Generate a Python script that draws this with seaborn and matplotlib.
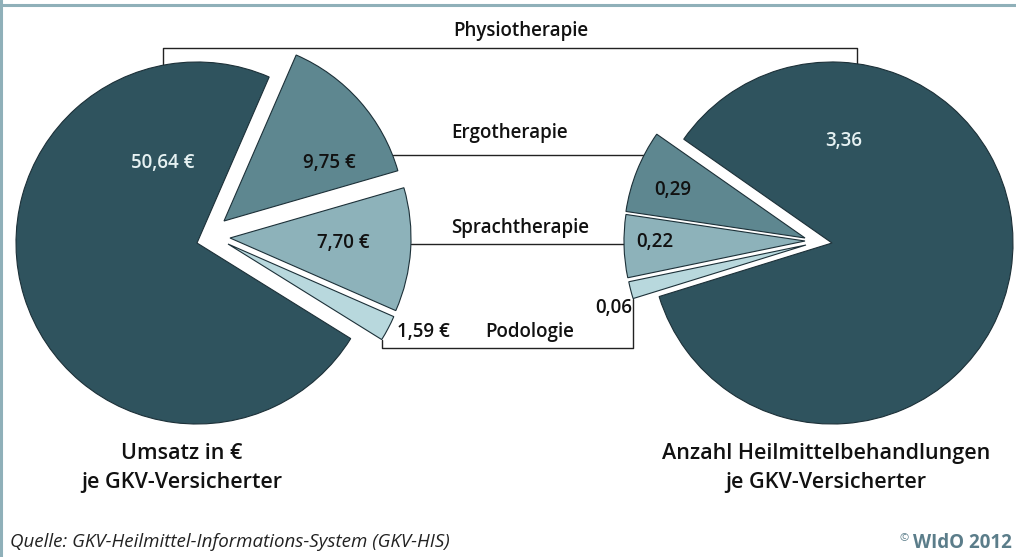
import numpy as np
import seaborn as sns
import matplotlib.pyplot as plt

sns.set_theme(style="white")
plt.rcParams['font.family'] = ['Open Sans', 'DejaVu Sans']

# data
therapies = ['Ergotherapie', 'Sprachtherapie', 'Podologie', 'Physiotherapie']
umsatz = [9.75, 7.70, 1.59, 50.64]           # Umsatz in € je GKV-Versicherter
anzahl = [0.29, 0.22, 0.06, 3.36]            # Heilmittelbehandlungen je GKV-Versicherter
umsatz_labels = ['9,75 €', '7,70 €', '1,59 €', '50,64 €']
anzahl_labels = ['0,29', '0,22', '0,06', '3,36']

colors = ['#5e8790', '#8db2ba', '#b8d8dd', '#2f535e']
edge = '#1c3038'
H = 557
R = 181

# layout (pixel coords, y up)
left_c = (197, H - 243)
right_c = (832, H - 243)
left_shift = [(27, 22), (33, 5), (31, -1), (0, 0)]
right_shift = [(-27, 5), (-27, 2), (-26, -2), (0, 0)]

fig = plt.figure(figsize=(10.16, 5.57), dpi=100)
ax = fig.add_axes([0, 0, 1, 1])

wl, _ = ax.pie(umsatz, radius=R, center=left_c, startangle=66.5, counterclock=False,
               colors=colors, frame=True,
               wedgeprops=dict(edgecolor=edge, linewidth=0.8))
wr, _ = ax.pie(anzahl, radius=R, center=right_c, startangle=145, counterclock=True,
               colors=colors, frame=True,
               wedgeprops=dict(edgecolor=edge, linewidth=0.8))
for w, s in zip(wl, left_shift):
    w.set_center((left_c[0] + s[0], left_c[1] + s[1]))
for w, s in zip(wr, right_shift):
    w.set_center((right_c[0] + s[0], right_c[1] + s[1]))

ax.set_xlim(0, 1016)
ax.set_ylim(0, H)
ax.set_aspect('equal')
ax.axis('off')

lc = dict(color='#222222', lw=1.0, zorder=0)


def arc_x(w, y, side):
    cx, cy = w.center
    return cx + side * np.sqrt(R ** 2 - (y - cy) ** 2)


def arc_y(w, x):
    cx, cy = w.center
    return cy + np.sqrt(R ** 2 - (x - cx) ** 2)


def corner(w, theta):
    cx, cy = w.center
    a = np.deg2rad(theta)
    return cx + R * np.cos(a), cy + R * np.sin(a)


# Physiotherapie connector
top_y = H - 48
xl, xr = 163, 857
ax.plot([xl, xl, xr, xr], [arc_y(wl[3], xl), top_y, top_y, arc_y(wr[3], xr)], **lc)
# Ergotherapie / Sprachtherapie connectors
for i, y in [(0, H - 155), (1, H - 244)]:
    ax.plot([arc_x(wl[i], y, 1), arc_x(wr[i], y, -1)], [y, y], **lc)
# Podologie box
bot_y = H - 348
pl = corner(wl[2], wl[2].theta1)
pr = corner(wr[2], wr[2].theta2)
ax.plot([pl[0], pl[0], pr[0], pr[0]], [pl[1], bot_y, bot_y, pr[1]], **lc)

fs = 13.5
tk = dict(ha='center', va='center', fontsize=fs, fontweight='semibold', color='#111111')
ax.text(521, H - 31, therapies[3], **tk)
ax.text(510, H - 133, therapies[0], **tk)
ax.text(520, H - 228, therapies[1], **tk)
ax.text(530, H - 332, therapies[2], **tk)

# value labels
ax.text(163, H - 163, umsatz_labels[3], **{**tk, 'color': '#e6f1f2'})
ax.text(329, H - 163, umsatz_labels[0], **tk)
ax.text(343, H - 243, umsatz_labels[1], **tk)
ax.text(423, H - 332, umsatz_labels[2], **tk)
ax.text(844, H - 141, anzahl_labels[3], **{**tk, 'color': '#e6f1f2'})
ax.text(673, H - 190, anzahl_labels[0], **tk)
ax.text(655, H - 242, anzahl_labels[1], **tk)
ax.text(632, H - 308, anzahl_labels[2], **{**tk, 'ha': 'right'})

# titles below the pies
ax.text(182, H - 468, 'Umsatz in €\nje GKV-Versicherter', ha='center', va='center',
        fontsize=15.5, fontweight='semibold', color='#111111', linespacing=1.45)
ax.text(826, H - 468, 'Anzahl Heilmittelbehandlungen\nje GKV-Versicherter', ha='center',
        va='center', fontsize=15.5, fontweight='semibold', color='#111111', linespacing=1.45)

# footer
ax.text(10, H - 542, 'Quelle: GKV-Heilmittel-Informations-System (GKV-HIS)', ha='left',
        va='center', fontsize=13.5, style='italic', color='#222222')
ax.text(899, H - 539, '©', ha='left', va='center', fontsize=8, color='#5b7d8a')
ax.text(1012, H - 543, 'WIdO 2012', ha='right', va='center', fontsize=13.5,
        fontweight='bold', color='#5b7d8a')

# frame lines
ax.axhline(H - 5, color='#8fb0b9', lw=2.2)
ax.axvline(1, color='#8fb0b9', lw=2.2)

fig.savefig('out.png', dpi=100)
